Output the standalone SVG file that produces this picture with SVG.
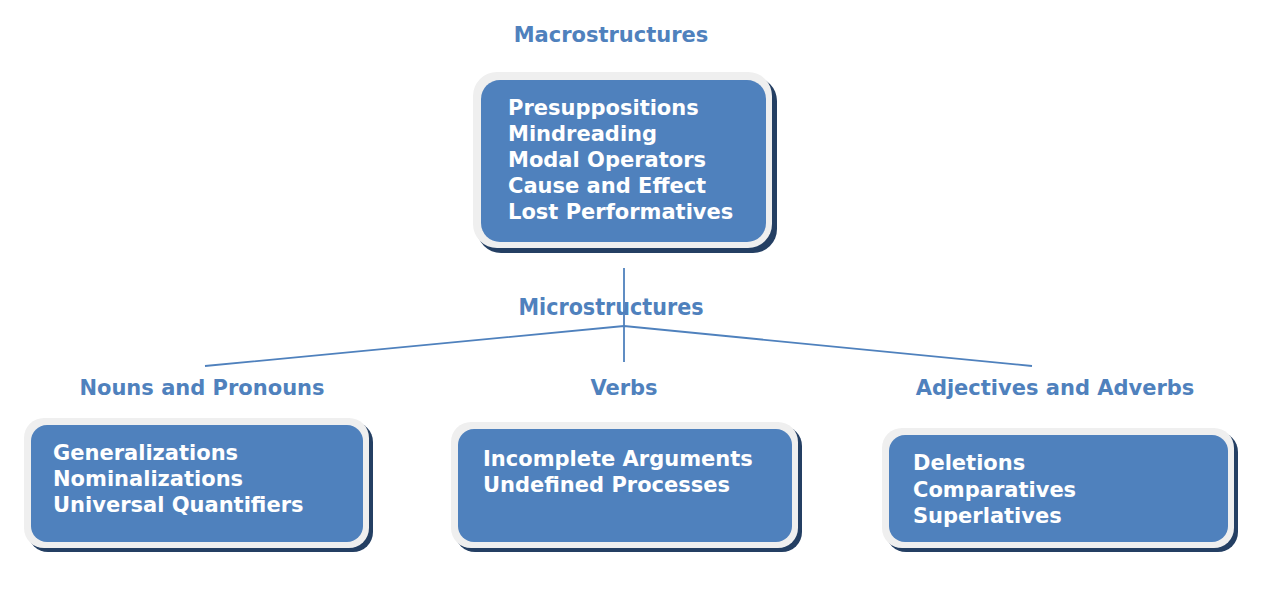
<svg xmlns="http://www.w3.org/2000/svg" width="1273" height="593" viewBox="0 0 1273 593">
<style>
.lbl{font-family:"DejaVu Sans",Verdana,sans-serif;font-weight:bold;font-size:21px;fill:#4F81BD;text-anchor:middle}
.cond{font-family:"DejaVu Sans Condensed","DejaVu Sans",sans-serif;font-stretch:condensed;font-size:23px}
.txt{font-family:"DejaVu Sans",Verdana,sans-serif;font-weight:bold;font-size:21px;fill:#ffffff}
.sh{fill:#243F63}
.rim{fill:#EFEFEF}
.box{fill:#4F81BD}
.ln{stroke:#4F81BD;stroke-width:1.8;fill:none}
</style>
<rect width="1273" height="593" fill="#ffffff"/>
<g id="connectors">
<line class="ln" x1="624" y1="268" x2="624" y2="362"/>
<polyline class="ln" points="205,366 624,326 1032,366"/>
</g>
<g id="label-macro"><text class="lbl" x="611" y="42">Macrostructures</text></g>
<g id="label-micro"><text class="lbl cond" x="611" y="315">Microstructures</text></g>
<g id="label-nouns"><text class="lbl" x="202" y="395">Nouns and Pronouns</text></g>
<g id="label-verbs"><text class="lbl" x="624" y="395">Verbs</text></g>
<g id="label-adj"><text class="lbl" x="1055" y="395">Adjectives and Adverbs</text></g>
<g id="node-macro">
<rect class="sh" x="477" y="77" width="300" height="176" rx="24"/>
<rect class="rim" x="473" y="72" width="299" height="176" rx="24"/>
<rect class="box" x="481" y="80" width="285" height="162" rx="19"/>
<text class="txt" x="508" y="115">Presuppositions</text>
<text class="txt" x="508" y="141">Mindreading</text>
<text class="txt" x="508" y="167">Modal Operators</text>
<text class="txt" x="508" y="193">Cause and Effect</text>
<text class="txt" x="508" y="219">Lost Performatives</text>
</g>
<g id="node-nouns">
<rect class="sh" x="28" y="422" width="345" height="130" rx="20"/>
<rect class="rim" x="24" y="418" width="345" height="130" rx="20"/>
<rect class="box" x="31" y="425" width="332" height="117" rx="16"/>
<text class="txt" x="53" y="460">Generalizations</text>
<text class="txt" x="53" y="486">Nominalizations</text>
<text class="txt" x="53" y="512">Universal Quantifiers</text>
</g>
<g id="node-verbs">
<rect class="sh" x="455" y="426" width="347" height="126" rx="20"/>
<rect class="rim" x="451" y="422" width="347" height="126" rx="20"/>
<rect class="box" x="458" y="429" width="334" height="113" rx="16"/>
<text class="txt" x="483" y="466">Incomplete Arguments</text>
<text class="txt" x="483" y="492">Undefined Processes</text>
</g>
<g id="node-adj">
<rect class="sh" x="886" y="432" width="352" height="120" rx="20"/>
<rect class="rim" x="882" y="428" width="352" height="120" rx="20"/>
<rect class="box" x="889" y="435" width="339" height="107" rx="16"/>
<text class="txt" x="913" y="470">Deletions</text>
<text class="txt" x="913" y="497">Comparatives</text>
<text class="txt" x="913" y="523">Superlatives</text>
</g>
</svg>
